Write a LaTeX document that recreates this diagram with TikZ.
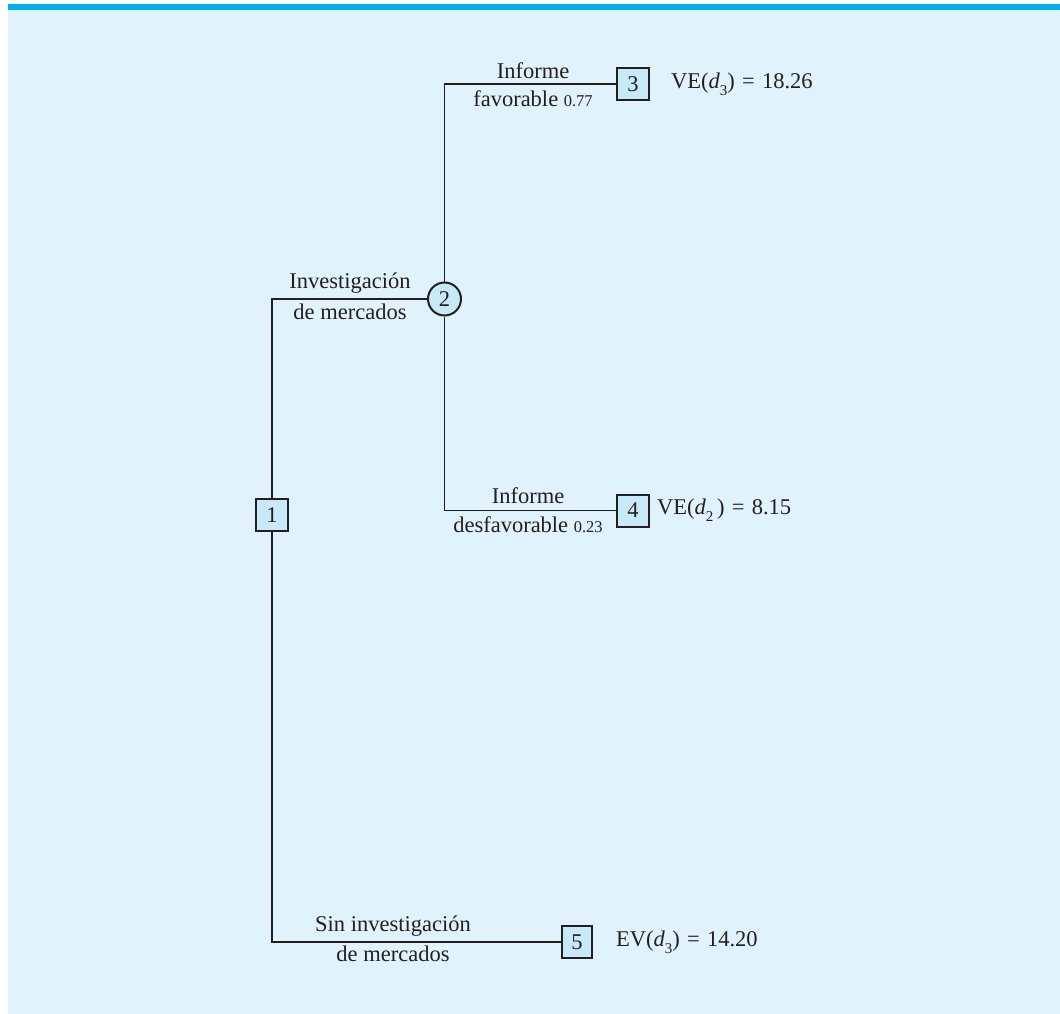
\documentclass[tikz,border=0pt]{standalone}
\usepackage{fontspec}
\setmainfont{Liberation Serif}
\newcommand{\mysub}[1]{\raisebox{-0.3em}{\fontsize{15}{15}\selectfont #1}}
\newcommand{\smallnum}[1]{{\fontsize{16.5}{17}\selectfont #1}}
\newcommand{\eqsign}{\hspace{0.32em}=\hspace{0.32em}}
\definecolor{bgblue}{HTML}{E0F2FC}
\definecolor{barblue}{HTML}{00AEEF}
\definecolor{boxblue}{HTML}{C8E9F8}
\definecolor{ink}{HTML}{231F20}
\tikzset{
  dec/.style={draw=ink, line width=2pt, fill=boxblue, minimum width=32pt, minimum height=32pt, inner sep=0pt, text=ink},
  chance/.style={circle, draw=ink, line width=2pt, fill=boxblue, minimum size=33pt, inner sep=0pt, text=ink},
  conn/.style={draw=ink, line width=1.9pt},
  lbl/.style={text=ink, inner sep=0pt, align=center},
}
\begin{document}
\begin{tikzpicture}[x=1pt, y=-1pt, font=\fontsize{22.5}{26}\selectfont]
\useasboundingbox (0,0) rectangle (1060,1014);
\fill[bgblue] (8,10) rectangle (1060,1014);
\fill[barblue] (8,4) rectangle (1060,10);

\node[dec] (n1) at (272,515) {1};
\node[chance] (n2) at (444.5,299) {2};
\node[dec] (n3) at (633,84) {3};
\node[dec] (n4) at (633,510.5) {4};
\node[dec, minimum width=30pt] (n5) at (577,942) {5};

\draw[conn] (n1.north) |- (n2.west);
\draw[conn] (n1.south) |- (n5.west);
\draw[conn] (n2.north) |- (n3.west);
\draw[conn] (n2.south) |- (n4.west);

% branch labels
\node[lbl] (l1a) at (350,283) {Investigación};
\node[lbl] (l1b) at (350,312) {de mercados};
\node[lbl] (l2a) at (533,71) {Informe};
\node[lbl] (l2b) at (533,99) {favorable \smallnum{0.77}};
\node[lbl] (l3a) at (528,496) {Informe};
\node[lbl] (l3b) at (528,525) {desfavorable \smallnum{0.23}};
\node[lbl] (l4a) at (393,926) {Sin investigación};
\node[lbl] (l4b) at (393,954) {de mercados};

% values
\node[lbl, anchor=west] (v3) at (671,84) {VE(\textit{d}\mysub{3})\eqsign18.26};
\node[lbl, anchor=west] (v4) at (657,510.5) {VE(\textit{d}\mysub{2}\,)\eqsign8.15};
\node[lbl, anchor=west] (v5) at (616,942) {EV(\textit{d}\mysub{3})\eqsign14.20};
\end{tikzpicture}
\end{document}
